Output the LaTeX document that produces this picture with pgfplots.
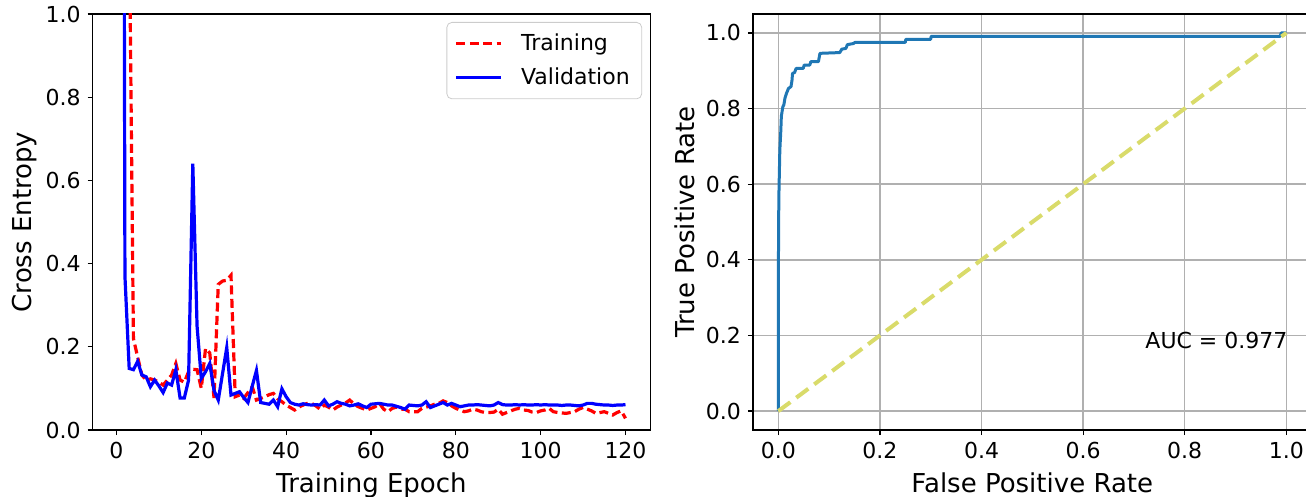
\documentclass[border=0pt]{standalone}
\usepackage{pgfplots}
\pgfplotsset{compat=1.18}
\usepackage{fontspec}
\setmainfont{DejaVu Sans}

\definecolor{trainred}{RGB}{255,0,0}
\definecolor{valblue}{RGB}{0,0,255}
\definecolor{rocblue}{RGB}{31,119,180}
\definecolor{diagyel}{RGB}{217,219,106}
\definecolor{gridgray}{RGB}{176,176,176}
\definecolor{legframe}{RGB}{204,204,204}

\pgfplotsset{
  every axis/.append style={
    scale only axis,
    axis line style={line width=0.6pt},
    tick align=outside,
    tick pos=left,
    major tick length=2.5pt,
    every tick/.style={black, line width=0.6pt},
    tick label style={font=\fontsize{11}{13}\selectfont},
    /pgf/number format/assume math mode=true,
    every axis x label/.style={at={(axis description cs:0.5,0)}, anchor=base,
      yshift=-31pt, font=\fontsize{13}{15}\selectfont},
    every axis y label/.style={at={(axis description cs:-0.1215,0.5)}, anchor=center,
      rotate=90, font=\fontsize{13}{15}\selectfont},
  },
}

\begin{document}
\begin{tikzpicture}
% left: loss curves
\begin{axis}[
  at={(46.35pt,-215pt)}, anchor=south west,
  width=278.7pt, height=208pt,
  xmin=-5.6, xmax=125.8, ymin=0, ymax=1,
  xtick={0,20,40,60,80,100,120},
  ytick={0,0.2,0.4,0.6,0.8,1.0},
  yticklabel style={/pgf/number format/.cd,fixed,fixed zerofill,precision=1},
  xlabel={Training Epoch},
  ylabel={Cross Entropy},
  legend style={at={(1,1)}, anchor=north east, xshift=-4pt, yshift=-4pt,
    draw=legframe, rounded corners=2.5pt, fill=white,
    font=\fontsize{11}{13}\selectfont, inner xsep=4pt, inner ysep=3.75pt,
    row sep=3pt, column sep=7pt},
  legend cell align=left,
  legend image code/.code={\draw[#1] (0pt,0pt) -- (22.5pt,0pt);},
]
\addplot[trainred, line width=1.6pt, dash pattern=on 4.5pt off 2.2pt] coordinates {
(1,8) (2,4) (3,1.25) (4,0.22) (5,0.175) (6,0.132) (7,0.12) (8,0.123) (9,0.12) (10,0.115)
(11,0.108) (12,0.12) (13,0.132) (14,0.16) (15,0.12) (16,0.115) (17,0.14) (18,0.146) (19,0.145) (20,0.1)
(21,0.196) (22,0.185) (23,0.077) (24,0.35) (25,0.358) (26,0.36) (27,0.372) (28,0.08) (29,0.084) (30,0.076)
(31,0.09) (32,0.104) (33,0.072) (34,0.076) (35,0.08) (36,0.085) (37,0.088) (38,0.075) (39,0.068) (40,0.06)
(41,0.054) (42,0.048) (43,0.055) (44,0.06) (45,0.064) (46,0.064) (47,0.058) (48,0.05) (49,0.06) (50,0.055)
(51,0.048) (52,0.055) (53,0.06) (54,0.065) (55,0.072) (56,0.062) (57,0.056) (58,0.052) (59,0.048) (60,0.052)
(61,0.056) (62,0.064) (63,0.05) (64,0.044) (65,0.052) (66,0.055) (67,0.05) (68,0.05) (69,0.044) (70,0.044)
(71,0.044) (72,0.052) (73,0.055) (74,0.058) (75,0.062) (76,0.064) (77,0.07) (78,0.066) (79,0.058) (80,0.052)
(81,0.048) (82,0.044) (83,0.046) (84,0.05) (85,0.048) (86,0.044) (87,0.042) (88,0.042) (89,0.043) (90,0.05)
(91,0.038) (92,0.042) (93,0.046) (94,0.05) (95,0.052) (96,0.048) (97,0.047) (98,0.043) (99,0.042) (100,0.046)
(101,0.048) (102,0.052) (103,0.044) (104,0.042) (105,0.041) (106,0.04) (107,0.042) (108,0.044) (109,0.05) (110,0.054)
(111,0.05) (112,0.046) (113,0.04) (114,0.042) (115,0.044) (116,0.04) (117,0.036) (118,0.042) (119,0.046) (120,0.028)
};
\addlegendentry{Training}
\addplot[valblue, line width=1.6pt] coordinates {
(1,5) (2,0.37) (3,0.148) (4,0.145) (5,0.165) (6,0.132) (7,0.128) (8,0.104) (9,0.12) (10,0.106)
(11,0.09) (12,0.113) (13,0.108) (14,0.145) (15,0.077) (16,0.077) (17,0.12) (18,0.64) (19,0.25) (20,0.124)
(21,0.14) (22,0.16) (23,0.095) (24,0.072) (25,0.135) (26,0.198) (27,0.084) (28,0.088) (29,0.092) (30,0.078)
(31,0.066) (32,0.105) (33,0.143) (34,0.066) (35,0.064) (36,0.062) (37,0.072) (38,0.056) (39,0.099) (40,0.08)
(41,0.066) (42,0.062) (43,0.06) (44,0.063) (45,0.061) (46,0.06) (47,0.061) (48,0.06) (49,0.072) (50,0.058)
(51,0.062) (52,0.068) (53,0.064) (54,0.062) (55,0.058) (56,0.06) (57,0.063) (58,0.058) (59,0.054) (60,0.062)
(61,0.063) (62,0.064) (63,0.062) (64,0.06) (65,0.06) (66,0.057) (67,0.054) (68,0.05) (69,0.06) (70,0.059)
(71,0.058) (72,0.06) (73,0.068) (74,0.054) (75,0.058) (76,0.062) (77,0.066) (78,0.06) (79,0.064) (80,0.06)
(81,0.056) (82,0.058) (83,0.06) (84,0.06) (85,0.061) (86,0.06) (87,0.059) (88,0.058) (89,0.06) (90,0.066)
(91,0.061) (92,0.06) (93,0.06) (94,0.061) (95,0.06) (96,0.061) (97,0.06) (98,0.06) (99,0.061) (100,0.06)
(101,0.061) (102,0.06) (103,0.06) (104,0.06) (105,0.059) (106,0.06) (107,0.06) (108,0.059) (109,0.058) (110,0.06)
(111,0.064) (112,0.064) (113,0.062) (114,0.061) (115,0.06) (116,0.06) (117,0.059) (118,0.06) (119,0.06) (120,0.061)
};
\addlegendentry{Validation}
\end{axis}

% right: ROC curve
\begin{axis}[
  at={(376.45pt,-215pt)}, anchor=south west,
  width=279.4pt, height=208pt,
  xmin=-0.05, xmax=1.05, ymin=-0.05, ymax=1.05,
  xtick={0,0.2,0.4,0.6,0.8,1.0},
  ytick={0,0.2,0.4,0.6,0.8,1.0},
  xticklabel style={/pgf/number format/.cd,fixed,fixed zerofill,precision=1},
  yticklabel style={/pgf/number format/.cd,fixed,fixed zerofill,precision=1},
  grid=major, grid style={gridgray, line width=0.7pt},
  xlabel={False Positive Rate},
  ylabel={True Positive Rate},
]
\addplot[rocblue, line width=1.5pt, line join=round] coordinates {
(0,0) (0,0.34) (0.001,0.56) (0.003,0.69) (0.005,0.743) (0.006,0.78) (0.009,0.805) (0.011,0.81)
(0.013,0.827) (0.016,0.84) (0.020,0.853) (0.025,0.858) (0.027,0.875) (0.028,0.893) (0.032,0.895)
(0.035,0.906) (0.049,0.906) (0.051,0.915) (0.062,0.915) (0.064,0.924) (0.079,0.924) (0.082,0.946)
(0.121,0.948) (0.125,0.957) (0.133,0.959) (0.136,0.969) (0.148,0.972) (0.151,0.975) (0.250,0.975)
(0.251,0.983) (0.300,0.983) (0.301,0.991) (0.988,0.991) (0.990,1.0) (1.0,1.0)
};
\addplot[diagyel, line width=2pt, dash pattern=on 7.5pt off 3.7pt] coordinates {(0,0) (1,1)};
\node[anchor=west, inner sep=0pt, font=\fontsize{11}{13}\selectfont] at (axis cs:0.722,0.187) {AUC = 0.977};
\end{axis}

\pgfresetboundingbox
\path[use as bounding box] (0pt,0pt) rectangle (653pt,-248.5pt);
\end{tikzpicture}
\end{document}
